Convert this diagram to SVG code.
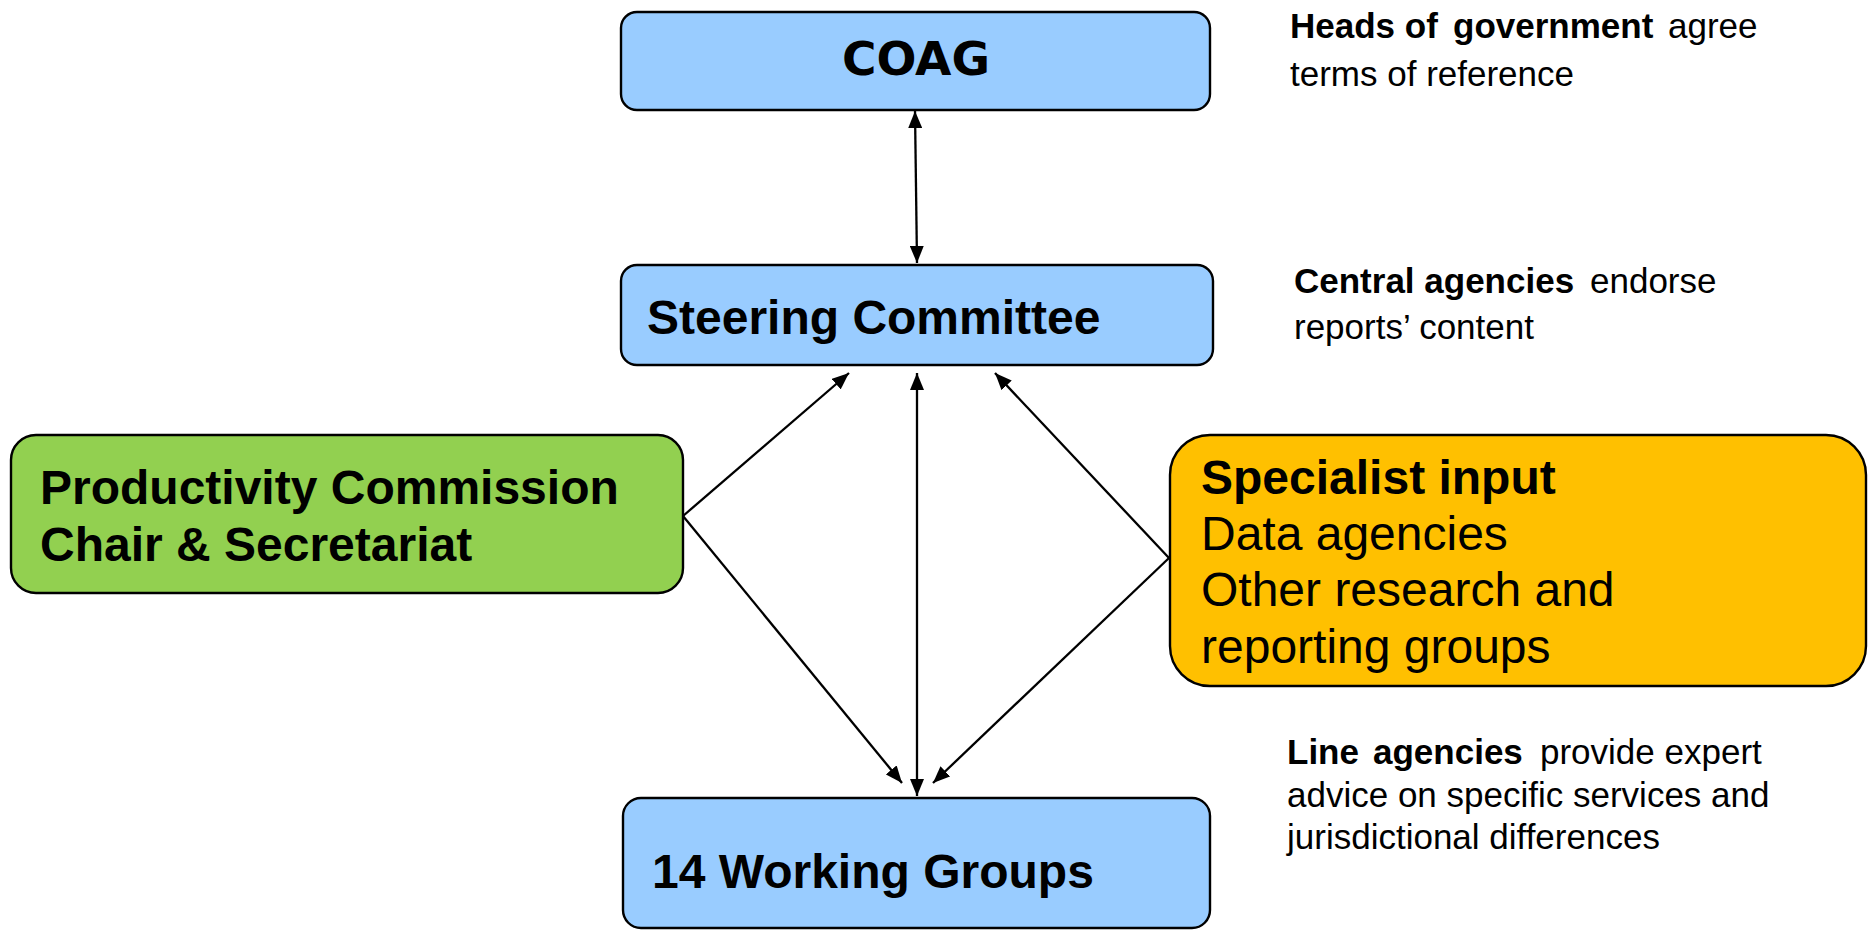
<svg xmlns="http://www.w3.org/2000/svg" width="1868" height="931" viewBox="0 0 1868 931">
  <style>
    .box { stroke: #000; stroke-width: 2.4; }
    .blue { fill: #99CCFF; }
    .green { fill: #92D050; }
    .orange { fill: #FFC000; }
    .main { font-family: "Liberation Sans", Arial, sans-serif; font-size: 48px; fill: #000; }
    .b { font-weight: bold; }
    .side { font-family: "Liberation Sans", Arial, sans-serif; font-size: 35px; fill: #000; }
    .link { stroke: #000; stroke-width: 2.3; fill: none; }
  </style>
  <defs>
    <!-- filled triangular heads, 17px long x 14px wide -->
    <marker id="arrowEnd" viewBox="0 0 17 14" refX="17" refY="7" markerWidth="17" markerHeight="14" markerUnits="userSpaceOnUse" orient="auto">
      <path d="M0,0 L17,7 L0,14 z" fill="#000"/>
    </marker>
    <marker id="arrowStart" viewBox="0 0 17 14" refX="0" refY="7" markerWidth="17" markerHeight="14" markerUnits="userSpaceOnUse" orient="auto">
      <path d="M17,0 L0,7 L17,14 z" fill="#000"/>
    </marker>
  </defs>

  <rect width="1868" height="931" fill="#fff"/>

  <!-- connectors -->
  <g id="connectors">
    <line class="link" x1="915" y1="111" x2="917" y2="263" marker-start="url(#arrowStart)" marker-end="url(#arrowEnd)"/>
    <line class="link" x1="917" y1="373" x2="917" y2="796" marker-start="url(#arrowStart)" marker-end="url(#arrowEnd)"/>
    <line class="link" x1="683" y1="516" x2="849" y2="373" marker-end="url(#arrowEnd)"/>
    <line class="link" x1="683" y1="516" x2="902" y2="783" marker-end="url(#arrowEnd)"/>
    <line class="link" x1="1169" y1="558" x2="995" y2="373" marker-end="url(#arrowEnd)"/>
    <line class="link" x1="1169" y1="558" x2="933" y2="783" marker-end="url(#arrowEnd)"/>
  </g>

  <g id="coag">
    <rect class="box blue" x="621" y="12" width="589" height="98" rx="16"/>
    <text x="916" y="75" text-anchor="middle" style="font-family: 'DejaVu Sans', Verdana, sans-serif; font-size: 47px; font-weight: bold;">COAG</text>
  </g>

  <g id="steering-committee">
    <rect class="box blue" x="621" y="265" width="592" height="100" rx="16"/>
    <text class="main b" x="647" y="334">Steering Committee</text>
  </g>

  <g id="productivity-commission">
    <rect class="box green" x="11" y="435" width="672" height="158" rx="25"/>
    <text class="main b" x="40" y="504">Productivity Commission</text>
    <text class="main b" x="40" y="561">Chair &amp; Secretariat</text>
  </g>

  <g id="specialist-input">
    <rect class="box orange" x="1170" y="435" width="696" height="251" rx="40"/>
    <text class="main b" x="1201" y="494">Specialist input</text>
    <text class="main" x="1201" y="550">Data agencies</text>
    <text class="main" x="1201" y="606">Other research and</text>
    <text class="main" x="1201" y="663">reporting groups</text>
  </g>

  <g id="working-groups">
    <rect class="box blue" x="623" y="798" width="587" height="130" rx="18"/>
    <text class="main b" x="652" y="888">14 Working Groups</text>
  </g>

  <g id="note-heads">
    <text class="side"><tspan class="b" x="1290" y="38">Heads of</tspan><tspan class="b" x="1453" y="38">government</tspan><tspan x="1668" y="38">agree</tspan></text>
    <text class="side" x="1290" y="86">terms of reference</text>
  </g>

  <g id="note-central">
    <text class="side"><tspan class="b" x="1294" y="293">Central agencies</tspan><tspan x="1590" y="293">endorse</tspan></text>
    <text class="side" x="1294" y="339">reports’ content</text>
  </g>

  <g id="note-line">
    <text class="side"><tspan class="b" x="1287" y="764">Line</tspan><tspan class="b" x="1373" y="764">agencies</tspan><tspan x="1540" y="764">provide expert</tspan></text>
    <text class="side" x="1287" y="807">advice on specific services and</text>
    <text class="side" x="1287" y="849">jurisdictional differences</text>
  </g>
</svg>
